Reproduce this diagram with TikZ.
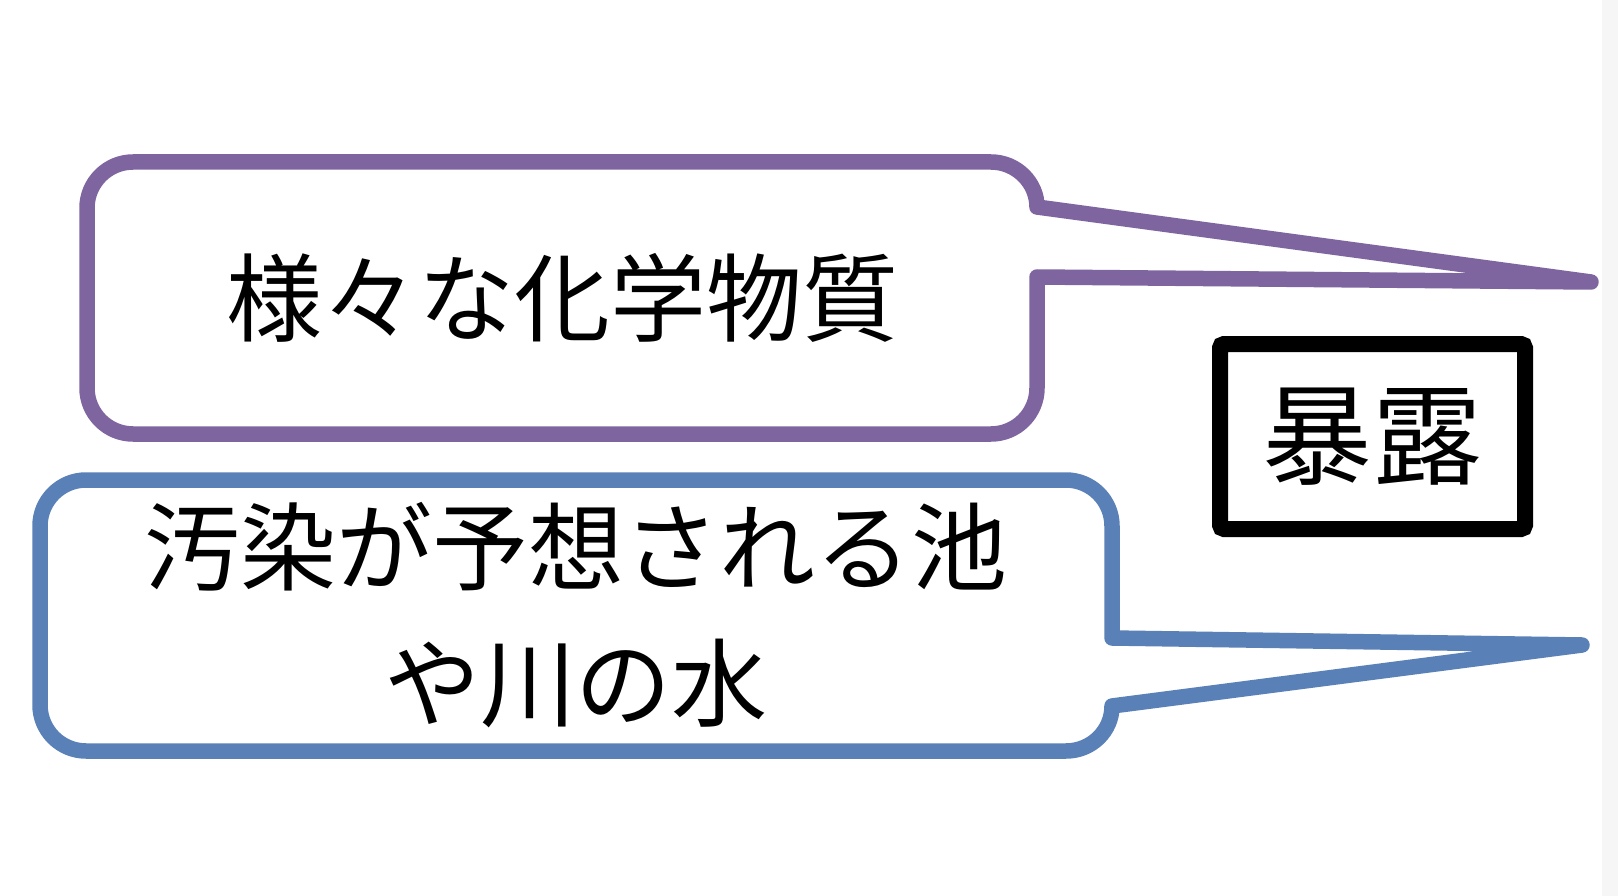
\documentclass[tikz,border=0pt]{standalone}
\usepackage{fontspec}
\newfontfamily\jp{Noto Sans CJK JP}
\definecolor{calloutpurple}{HTML}{7F65A0}
\definecolor{calloutblue}{HTML}{5A80B8}
\tikzset{
  callout/.style={line width=15.5pt, line join=round, fill=white},
  bigtext/.style={inner sep=0pt, align=center, text=black},
}
\begin{document}
\begin{tikzpicture}[x=1pt,y=-1pt]
\useasboundingbox (0,0) rectangle (1618,896);
\fill[white] (0,0) rectangle (1618,896);
\fill[gray!7] (1602,0) rectangle (1618,896);

% purple callout
\draw[callout, draw=calloutpurple]
  (1037,207) -- (1591,282) -- (1037,277) -- (1037,388)
  .. controls (1037,413.4) and (1016.4,434) .. (991,434) -- (133,434)
  .. controls (107.6,434) and (87,413.4) .. (87,388) -- (87,208)
  .. controls (87,182.6) and (107.6,162) .. (133,162) -- (991,162)
  .. controls (1016.4,162) and (1037,182.6) .. (1037,207) -- cycle;
\node[bigtext, font=\jp\fontsize{96}{136}\selectfont] (chem) at (562,298) {様々な化学物質};

% blue callout
\draw[callout, draw=calloutblue]
  (1112,638) -- (1582,645) -- (1112,706)
  .. controls (1112,731) and (1091.4,751) .. (1066,751) -- (86,751)
  .. controls (60.6,751) and (40,730.4) .. (40,705) -- (40,526)
  .. controls (40,500.6) and (60.6,480) .. (86,480) -- (1066,480)
  .. controls (1091.4,480) and (1112,500.6) .. (1112,526) -- cycle;
\node[bigtext, font=\jp\fontsize{96}{136}\selectfont] (water) at (576,615) {汚染が予想される池\\や川の水};

% exposure box
\node[draw=black, line width=16pt, rounded corners=4pt, fill=white,
      minimum width=305pt, minimum height=185pt, inner sep=0pt,
      font=\jp\fontsize{110}{110}\selectfont] (expo) at (1372.5,436.5) {暴露};
\end{tikzpicture}
\end{document}
